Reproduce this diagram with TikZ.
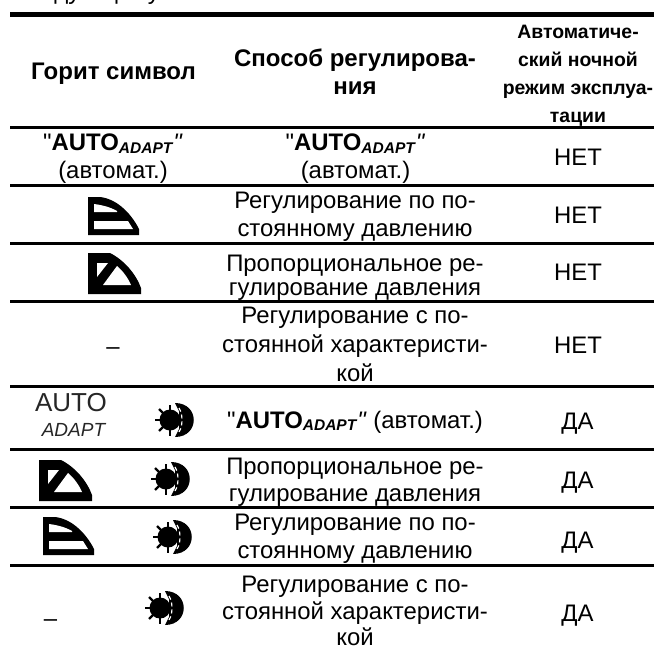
\documentclass[tikz,border=0pt]{standalone}
\usepackage{fontspec}
\setmainfont[Ligatures=TeXOff]{Liberation Sans}
\tikzset{
  body/.style={font=\fontsize{23.9}{#1}\selectfont, align=center, inner sep=0pt},
  body/.default=28,
  head/.style={font=\fontsize{24}{28}\selectfont\bfseries, align=center, inner sep=0pt},
  headn/.style={font=\fontsize{19.4}{28}\selectfont\bfseries, align=center, inner sep=0pt},
  rule/.style={line width=3pt, black},
  icon/.style={fill=black, draw=none},
  hole/.style={fill=white, draw=none},
}
\newcommand{\autoadapt}{"\textbf{AUTO}\raisebox{-2.5pt}{\fontsize{15.5}{16}\selectfont\textit{\textbf{ADAPT}}}\textit{"}}
\newcommand{\sunicon}[2]{%
  \begin{scope}[shift={(#1,#2)}]
    \foreach \a in {90,135,180,225,270}{\draw[line width=2.4pt,black] (0,0) -- ++(\a:15.5);}
    \fill[black] (0,0) circle (10.5);
    \fill[black] (5,-17) .. controls (30,-17) and (30,17) .. (5,17) -- (9,9) -- (9,-9) -- cycle;
    \draw[white,line width=1.2pt,dash pattern=on 4pt off 3pt] (9,-12) .. controls (13,-6) and (13,6) .. (9,12);
  \end{scope}}
\newcommand{\consticon}[2]{%
  \begin{scope}[shift={(#1,#2)}]
    \fill[icon] (0,0) -- (0,-38) -- (12,-38) .. controls (30,-36) and (44,-20) .. (51,-6) -- (51,0) -- cycle;
    \fill[hole] (6,-6) -- (45,-6) -- (40,-14) -- (6,-14) -- cycle;
    \fill[hole] (6,-23) -- (29,-23) -- (29,-24) .. controls (22,-28) and (14,-30) .. (6,-31) -- cycle;
  \end{scope}}
\newcommand{\propicon}[2]{%
  \begin{scope}[shift={(#1,#2)}]
    \fill[icon] (0,0) -- (0,-41) -- (22,-41) .. controls (36,-34) and (48,-20) .. (53,-6) -- (53,0) -- cycle;
    \fill[hole] (15,-9) -- (43,-9) .. controls (40,-16) and (35,-23) .. (29,-28) -- cycle;
    \fill[hole] (9,-17) -- (9,-31) -- (20,-31) -- cycle;
  \end{scope}}
\begin{document}
\begin{tikzpicture}[x=1pt,y=-1pt]
\useasboundingbox (0,0) rectangle (654,646);
% text line cropped by the top edge
\node[font=\fontsize{24}{28}\selectfont,anchor=base west,inner sep=0pt] (cut) at (10,-1) {Следующему};
% rules
\coordinate (rl) at (10,0);
\coordinate (rr) at (654,0);
\draw[line width=4.5pt] (rl |- 0,14.5) -- (rr |- 0,14.5);
\foreach \y in {127.5,185,243,301,386,449,507,565}{\draw[rule] (rl |- 0,\y) -- (rr |- 0,\y);}
% header
\node[head] (h1) at (113.5,74) {Горит символ};
\node[head] (h2) at (355,72) {Способ регулирова-\\ния};
\node[headn] (h3) at (578,76) {Автоматиче-\\ский ночной\\режим эксплуа-\\тации};
% row 1
\node[body=28] (a1) at (113,159) {\autoadapt\\(автомат.)};
\node[body=28] (b1) at (355.5,159) {\autoadapt\\(автомат.)};
\node[body] (c1) at (578,157) {НЕТ};
% row 2
\node[body] (b2) at (355,216.5) {Регулирование по по-\\стоянному давлению};
\node[body] (c2) at (578,215) {НЕТ};
% row 3
\node[body=24.5] (b3) at (355,278) {Пропорциональное ре-\\гулирование давления};
\node[body] (c3) at (578,272) {НЕТ};
% row 4
\node[body] (a4) at (113,351) {–};
\node[body=29] (b4) at (355,344.5) {Регулирование с по-\\стоянной характеристи-\\кой};
\node[body] (c4) at (578,345) {НЕТ};
% row 5
\node[body] (b5) at (355,422) {\autoadapt\ (автомат.)};
\node[body] (c5) at (577.5,423.5) {ДА};
% row 6
\node[body=27] (b6) at (355,482.5) {Пропорциональное ре-\\гулирование давления};
\node[body] (c6) at (577.5,482.5) {ДА};
% row 7
\node[body] (b7) at (355,538.5) {Регулирование по по-\\стоянному давлению};
\node[body] (c7) at (577.5,542.5) {ДА};
% row 8
\node[body=26.5] (b8) at (355,611) {Регулирование с по-\\стоянной характеристи-\\кой};
\node[body] (c8) at (577.5,615.5) {ДА};
% symbols
\consticon{88}{235}
\propicon{88}{294}
\node[font=\fontsize{26}{28}\selectfont,inner sep=0pt,text=black!85] (a5a) at (71,403) {AUTO};
\node[font=\fontsize{19}{20}\selectfont\itshape,inner sep=0pt,text=black!85] (a5b) at (73.5,430) {ADAPT};
\sunicon{170}{420}
\propicon{39}{501}
\sunicon{166}{479}
\consticon{43}{555}
\sunicon{168}{537}
\node[body] (a8) at (50.5,623.5) {–};
\sunicon{160}{608}
\end{tikzpicture}
\end{document}
